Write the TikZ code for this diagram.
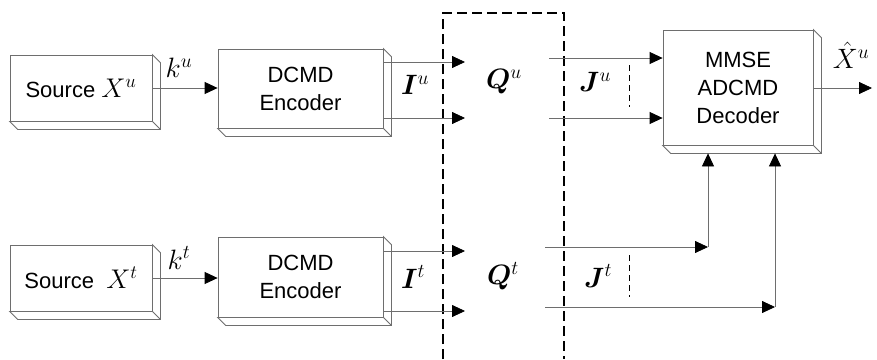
\RequirePackage{fix-cm}
\documentclass[tikz,border=0pt]{standalone}
\usepackage{amsmath,amssymb,bm}
\usepackage{fontspec}
\setmainfont{Liberation Sans}
\usetikzlibrary{arrows.meta,positioning,calc}
\definecolor{edge}{HTML}{6E6E6E}
\newcommand{\dep}{8}
\newcommand{\slab}[1]{%
  \draw[edge, line width=0.8pt, fill=white] (#1.north east) -- ++(\dep,\dep) |- ($(#1.south west)+(\dep,\dep)$) -- (#1.south west) -- (#1.south east) -- cycle;
  \draw[edge, line width=0.8pt] (#1.south east) -- ++(\dep,\dep);}
\newcommand{\srcmath}[1]{{\fontsize{27}{30}\selectfont$#1$}}

\begin{document}
\begin{tikzpicture}[x=1pt, y=-1pt,
  blockbox/.style={rectangle, draw=edge, line width=0.8pt, fill=white, align=center, inner sep=0pt, font=\fontsize{22}{28}\selectfont},
  arr/.style={-{Triangle[length=13pt, width=12pt, black]}, line width=0.8pt, edge},
  lbl/.style={font=\fontsize{28}{30}\selectfont, inner sep=1pt},
  bigdash/.style={line width=1.8pt, dash pattern=on 10pt off 5pt},
  smalldash/.style={line width=1pt, dash pattern=on 6pt off 4pt}
]
  \useasboundingbox (0,0) rectangle (877,359);

  \node[blockbox, minimum width=142pt, minimum height=66pt] (srcu) at (81,88) {Source \srcmath{X^u}};
  \node[blockbox, minimum width=165pt, minimum height=79pt] (encu) at (300.5,88.5) {DCMD\\Encoder};
  \node[blockbox, minimum width=150pt, minimum height=115pt] (dec) at (738,87.5) {MMSE\\ADCMD\\Decoder};
  \node[blockbox, minimum width=142pt, minimum height=66pt] (srct) at (81,278) {Source\ \ \srcmath{X^t}};
  \node[blockbox, minimum width=165pt, minimum height=80pt] (enct) at (300.5,277) {DCMD\\Encoder};
  \foreach \b in {srcu,encu,dec,srct,enct} {\slab{\b}}

  \draw[bigdash] (443,359) -- (443,13) -- (564,13) -- (564,359);
  \draw[smalldash] (629,65) -- (629,107);
  \draw[smalldash] (629,255) -- (629,297);

  \draw[arr] (srcu.east) -- (srcu.east -| encu.west);
  \draw[arr] (srct.east) -- (srct.east -| enct.west);

  \coordinate (qu1) at (465,62);
  \coordinate (qu2) at (465,118);
  \coordinate (qt1) at (465,251);
  \coordinate (qt2) at (465,311);
  \draw[arr] (encu.east |- qu1) -- (qu1);
  \draw[arr] (encu.east |- qu2) -- (qu2);
  \draw[arr] (enct.east |- qt1) -- (qt1);
  \draw[arr] (enct.east |- qt2) -- (qt2);

  \coordinate (ju1) at (549,58);
  \coordinate (ju2) at (549,118);
  \draw[arr] (ju1) -- (ju1 -| dec.west);
  \draw[arr] (ju2) -- (ju2 -| dec.west);

  \coordinate (decb) at ($(dec.south)+(0,\dep)$);
  \coordinate (jt1) at (545,247);
  \coordinate (jt2) at (545,307);
  \coordinate (bend1) at (708,247);
  \coordinate (bend2) at (775,307);
  \draw[arr] (jt1) -- (bend1);
  \draw[arr] (bend1) -- (bend1 |- decb);
  \draw[arr] (jt2) -- (bend2);
  \draw[arr] (bend2) -- (bend2 |- decb);

  \coordinate (xout) at (872,88);
  \draw[arr] (dec.east |- xout) -- (xout);

  \node[lbl] (ku) at (179,68) {$k^u$};
  \node[lbl] (kt) at (179,258) {$k^t$};
  \node[lbl] (iu) at (415,85) {$\bm{I}^u$};
  \node[lbl] (it) at (413,277) {$\bm{I}^t$};
  \node[lbl] (qu) at (504,82) {$\bm{Q}^u$};
  \node[lbl] (qt) at (503,276) {$\bm{Q}^t$};
  \node[lbl] (ju) at (595,82) {$\bm{J}^u$};
  \node[lbl] (jt) at (598,276) {$\bm{J}^t$};
  \node[lbl] (xhat) at (851,55) {$\hat{X}^u$};
\end{tikzpicture}
\end{document}
